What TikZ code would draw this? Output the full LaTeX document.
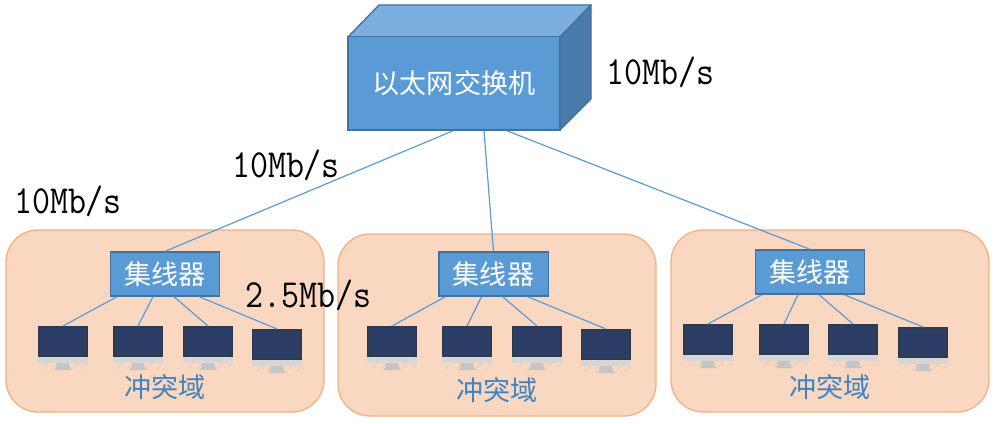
\documentclass[tikz,border=0pt]{standalone}
\usepackage{graphicx}
\usepackage{fontspec}
\newfontfamily\cjk{Noto Sans CJK SC}
\usetikzlibrary{calc}
\definecolor{blu}{HTML}{5B9BD5}
\definecolor{bluedge}{HTML}{41719C}
\definecolor{bluetop}{HTML}{7CAEDE}
\definecolor{bluside}{HTML}{4A7BAB}
\definecolor{regfill}{HTML}{F9D7C0}
\definecolor{regedge}{HTML}{F4B183}
\definecolor{scr}{HTML}{2C3E66}
\definecolor{scredge}{HTML}{2F3A4C}
\definecolor{silver}{HTML}{D6D6D6}
\definecolor{hatch}{HTML}{E6C8B4}
\definecolor{labblue}{HTML}{3E84C2}
\newcommand{\tallspeed}[1]{\scalebox{1}[1.14]{#1}}
\tikzset{
  x=0.75pt,y=-0.75pt,
  region/.style={draw=regedge,fill=regfill,line width=1pt,rounded corners=24pt,inner sep=0pt,minimum width=238.5pt,minimum height=136.5pt},
  hub/.style={draw=bluedge,fill=blu,line width=1pt,inner sep=0pt,minimum width=82pt,minimum height=33pt,text=white,font=\cjk\fontsize{20.3}{20.3}\selectfont},
  link/.style={draw=blu,line width=0.9pt},
  speed/.style={inner sep=0pt,font=\ttfamily\fontsize{26.2}{26.2}\selectfont,text=black},
  zone/.style={inner sep=0pt,text=labblue,font=\cjk\fontsize{20.3}{20.3}\selectfont},
  screen/.style={draw=scredge,fill=scr,line width=1.5pt,inner sep=0pt,minimum width=36pt,minimum height=21.5pt},
}
\newcommand{\pcunit}[3]{%
  \fill[silver] (#2,#3+30) rectangle (#2+50,#3+37);
  \foreach \k in {4,14,24,34,44}{\draw[hatch,line width=0.5pt] (#2+\k,#3+43) -- (#2+\k+6,#3+37);}
  \fill[silver!92!black] (#2+19,#3+37) -- (#2+31,#3+37) -- (#2+32,#3+42) -- (#2+34,#3+44) -- (#2+16,#3+44) -- (#2+18,#3+42) -- cycle;
  \node[screen,anchor=north west] (#1) at (#2,#3) {};
}
\begin{document}
\begin{tikzpicture}
\useasboundingbox (0,0) rectangle (996,424);
% regions
\node[region] (r1) at (165,321) {};
\node[region] (r2) at (497,325) {};
\node[region] (r3) at (830,321) {};
% switch box
\fill[bluetop,draw=bluedge,line width=1pt,line join=round] (348,37) -- (379,5) -- (591,5) -- (560,37) -- cycle;
\fill[bluside,draw=bluedge,line width=1pt,line join=round] (560,37) -- (591,5) -- (591,99) -- (560,130) -- cycle;
\node[draw=bluedge,fill=blu,line width=1pt,inner sep=0pt,minimum width=159pt,minimum height=70pt,text=white,font=\cjk\fontsize{20.3}{20.3}\selectfont] (sw) at (454,83.5) {以太网交换机};
% hubs
\node[hub] (h1) at (165,274) {集线器};
\node[hub] (h2) at (493.5,274) {集线器};
\node[hub] (h3) at (810,272) {集线器};
% computers
\pcunit{a1}{38}{326}\pcunit{a2}{113}{326}\pcunit{a3}{183}{326}\pcunit{a4}{252}{329}
\pcunit{b1}{367}{326}\pcunit{b2}{442}{326}\pcunit{b3}{512}{326}\pcunit{b4}{581}{329}
\pcunit{c1}{683}{324}\pcunit{c2}{759}{324}\pcunit{c3}{828}{324}\pcunit{c4}{898}{327}
% links
\draw[link] ([xshift=-0.75pt]sw.south) -- (h1.north);
\draw[link] ([xshift=22.5pt]sw.south) -- (h2.north);
\draw[link] ([xshift=39.75pt]sw.south) -- (h3.north);
\foreach \h/\p in {h1/a,h2/b,h3/c}{
  \draw[link] ([xshift=-36pt]\h.south) -- (\p1.north);
  \draw[link] ([xshift=-9pt]\h.south) -- (\p2.north);
  \draw[link] ([xshift=6.75pt]\h.south) -- (\p3.north);
  \draw[link] ([xshift=25.5pt]\h.south) -- (\p4.north);
}
% labels
\node[zone] (z1) at (165,387) {冲突域};
\node[zone] (z2) at (497,390) {冲突域};
\node[zone] (z3) at (830,387) {冲突域};
\node[speed] (s1) at (660.5,72) {\tallspeed{10Mb/s}};
\node[speed] (s2) at (286,165) {\tallspeed{10Mb/s}};
\node[speed] (s3) at (68,201) {\tallspeed{10Mb/s}};
\node[speed] (s4) at (308.5,295) {\tallspeed{2.5Mb/s}};
\end{tikzpicture}
\end{document}
